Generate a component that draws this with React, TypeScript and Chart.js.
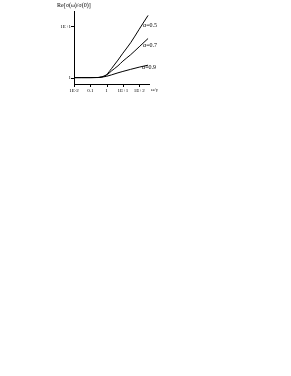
import React, { useEffect, useRef } from "react";
import { Chart, registerables } from "chart.js";

Chart.register(...registerables);

// ω/γ sample points
const omega = [0.01, 0.03, 0.1, 0.3, 0.5, 1, 2, 5, 10, 30, 100, 350];
// Re[σ(ω)/σ(0)] for each α
const alpha05 = [1, 1, 1, 1.005, 1.03, 1.15, 1.5, 2.2, 3.0, 4.8, 8.8, 16.4];
const alpha07 = [1, 1, 1, 1.005, 1.03, 1.12, 1.35, 1.7, 2.1, 2.8, 4.0, 5.8];
const alpha09 = [1, 1, 1, 1.003, 1.02, 1.06, 1.13, 1.24, 1.32, 1.45, 1.6, 1.75];
const seriesNames = ["α=0.5", "α=0.7", "α=0.9"];
const xTickLabels: Record<string, string> = { "0.01": "1E-2", "0.1": "0.1", "1": "1", "10": "1E+1", "100": "1E+2" };
const yTickLabels: Record<string, string> = { "1": "1", "10": "1E+1" };

const FONT = "'Liberation Serif', 'DejaVu Serif', serif";
const labelOffsets = [
  { dx: -5, dy: 10 },
  { dx: -5, dy: 7 },
  { dx: -6, dy: 2 },
];

function isNice(v: number) {
  const e = Math.floor(Math.log10(v) + 1e-9);
  const d = v / Math.pow(10, e);
  return Math.abs(d - Math.round(d)) < 1e-6 && Math.round(d) >= 1 && Math.round(d) <= 9;
}
function isPow10(v: number) {
  const l = Math.log10(v);
  return Math.abs(l - Math.round(l)) < 1e-6;
}

const decorPlugin = {
  id: "decor",
  afterDraw(chart: any) {
    const ctx = chart.ctx;
    const xs = chart.scales.x;
    const ys = chart.scales.y;
    const area = chart.chartArea;
    ctx.save();
    ctx.strokeStyle = "#000";
    ctx.lineWidth = 1;
    ctx.beginPath();
    for (const t of xs.ticks) {
      const v = t.value;
      if (!isNice(v) || v > xs.max || v < xs.min) continue;
      const px = Math.round(xs.getPixelForValue(v)) + 0.5;
      const len = isPow10(v) ? 3 : 1.5;
      ctx.moveTo(px, area.bottom);
      ctx.lineTo(px, area.bottom + len);
    }
    for (const t of ys.ticks) {
      const v = t.value;
      if (!isNice(v) || v > ys.max || v < ys.min) continue;
      const py = Math.round(ys.getPixelForValue(v)) + 0.5;
      const len = isPow10(v) ? 3 : 1.5;
      ctx.moveTo(area.left - len, py);
      ctx.lineTo(area.left, py);
    }
    ctx.stroke();

    ctx.fillStyle = "#000";
    ctx.font = `6px ${FONT}`;
    ctx.textBaseline = "middle";
    ctx.textAlign = "left";
    chart.data.datasets.forEach((ds: any, i: number) => {
      const last = ds.data[ds.data.length - 1];
      const px = xs.getPixelForValue(last.x);
      const py = ys.getPixelForValue(last.y);
      ctx.fillText(seriesNames[i], px + labelOffsets[i].dx, py + labelOffsets[i].dy);
    });
    ctx.font = `5px ${FONT}`;
    ctx.fillText("ω/γ", area.right + 2, area.bottom + 6);
    ctx.restore();
  },
};

export default function App() {
  const ref = useRef<HTMLCanvasElement | null>(null);
  useEffect(() => {
    if (!ref.current) return;
    const mk = (vals: number[]) => omega.map((x, i) => ({ x, y: vals[i] }));
    const ds = (vals: number[], label: string) => ({
      label,
      data: mk(vals),
      borderColor: "#000",
      borderWidth: 1,
      pointRadius: 0,
      fill: false,
      cubicInterpolationMode: "monotone" as const,
    });
    const chart = new Chart(ref.current, {
      type: "line",
      data: {
        datasets: [ds(alpha05, seriesNames[0]), ds(alpha07, seriesNames[1]), ds(alpha09, seriesNames[2])],
      },
      options: {
        animation: false,
        responsive: false,
        devicePixelRatio: 1,
        layout: { padding: { left: 7, right: 21, top: 0, bottom: 6 } },
        plugins: {
          legend: { display: false },
          tooltip: { enabled: false },
          title: {
            display: true,
            text: "Re[σ(ω)/σ(0)]",
            align: "start",
            color: "#000",
            font: { family: FONT, size: 6, weight: "normal" },
            padding: { top: 1.5, bottom: 2.3 },
          },
        },
        scales: {
          x: {
            type: "logarithmic",
            min: 0.01,
            max: 400,
            grid: { display: false, drawTicks: false },
            border: { display: true, color: "#000", width: 1 },
            ticks: {
              autoSkip: false,
              maxRotation: 0,
              padding: 3.5,
              color: "#000",
              font: { family: FONT, size: 5 },
              callback: (v: any) => {
                const k = String(Number(v));
                return k in xTickLabels ? xTickLabels[k] : null;
              },
            },
            afterFit: (s: any) => {
              s.height = 10;
            },
          },
          y: {
            type: "logarithmic",
            min: 0.75,
            max: 20,
            grid: { display: false, drawTicks: false },
            border: { display: true, color: "#000", width: 1 },
            ticks: {
              autoSkip: false,
              padding: 3,
              color: "#000",
              font: { family: FONT, size: 5 },
              callback: (v: any) => {
                const k = String(Number(v));
                return k in yTickLabels ? yTickLabels[k] : null;
              },
            },
            afterFit: (s: any) => {
              s.width = 17;
            },
          },
        },
      },
      plugins: [decorPlugin],
    });
    return () => chart.destroy();
  }, []);
  return (
    <div style={{ position: "absolute", left: 50, top: 0, width: 120, height: 100 }}>
      <canvas ref={ref} width={120} height={100} style={{ display: "block", width: 120, height: 100 }} />
    </div>
  );
}
